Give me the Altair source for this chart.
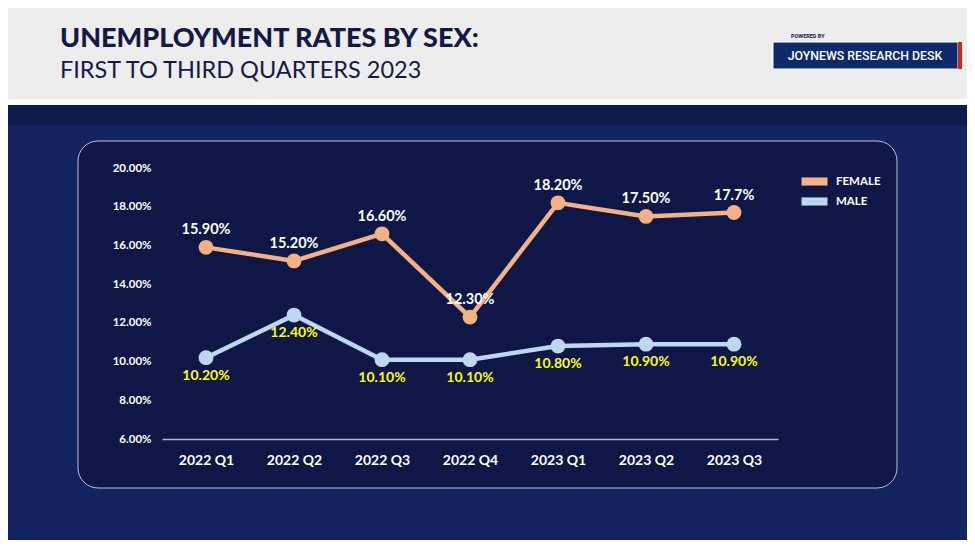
import altair as alt
import pandas as pd

quarters = ["2022 Q1", "2022 Q2", "2022 Q3", "2022 Q4", "2023 Q1", "2023 Q2", "2023 Q3"]
female = [15.9, 15.2, 16.6, 12.3, 18.2, 17.5, 17.7]
male = [10.2, 12.4, 10.1, 10.1, 10.8, 10.9, 10.9]
female_labels = ["15.90%", "15.20%", "16.60%", "12.30%", "18.20%", "17.50%", "17.7%"]
male_labels = ["10.20%", "12.40%", "10.10%", "10.10%", "10.80%", "10.90%", "10.90%"]
series = ["FEMALE", "MALE"]
colors = ["#f4b183", "#bdd7ee"]
y_ticks = [6, 8, 10, 12, 14, 16, 18, 20]

title = "UNEMPLOYMENT RATES BY SEX:"
subtitle = "FIRST TO THIRD QUARTERS 2023"
powered = "POWERED BY"
brand = "JOYNEWS RESEARCH DESK"

rows = []
for i, q in enumerate(quarters):
    rows.append({"quarter": q, "sex": "FEMALE", "rate": female[i], "label": female_labels[i]})
for i, q in enumerate(quarters):
    rows.append({"quarter": q, "sex": "MALE", "rate": male[i], "label": male_labels[i]})
df = pd.DataFrame(rows)
one = pd.DataFrame({"a": [0]})

FONT = "Lato"

xenc = alt.X("quarter:N", sort=quarters,
             scale=alt.Scale(type="point", padding=0.5),
             axis=alt.Axis(title=None, labelAngle=0, ticks=False, domainColor="#aeb6d3",
                           domainWidth=1.5, labelColor="white", labelFont=FONT,
                           labelFontWeight="bold", labelFontSize=14, labelPadding=14,
                           grid=False, zindex=1))
yenc = alt.Y("rate:Q", scale=alt.Scale(domain=[6, 20], nice=False, zero=False),
             axis=alt.Axis(title=None, values=y_ticks,
                           labelExpr="format(datum.value, '.2f') + '%'",
                           labelOverlap=False, labelFlush=False,
                           domain=False, ticks=False, grid=False, labelColor="white",
                           labelFont=FONT, labelFontWeight="bold", labelFontSize=11.5,
                           labelPadding=11, zindex=1))

base = alt.Chart(df)

header = alt.Chart(one).mark_rect(color="#ededed").encode(
    x=alt.value(-170), x2=alt.value(820), y=alt.value(-176), y2=alt.value(-69))
strip = alt.Chart(one).mark_rect(color="#ffffff").encode(
    x=alt.value(-170), x2=alt.value(820), y=alt.value(-69), y2=alt.value(-63))
topband = alt.Chart(one).mark_rect(color="#0f1a4f").encode(
    x=alt.value(-170), x2=alt.value(820), y=alt.value(-63), y2=alt.value(-43))
panel = alt.Chart(one).mark_rect(color="#0f1747", cornerRadius=20, stroke="#b9c0da",
                                 strokeWidth=1).encode(
    x=alt.value(-84), x2=alt.value(735), y=alt.value(-27), y2=alt.value(320))

t1 = alt.Chart(one).mark_text(text=title, font=FONT, fontWeight=900, fontSize=27,
                              color="#141a45", align="left", baseline="alphabetic").encode(
    x=alt.value(-102), y=alt.value(-121))
t2 = alt.Chart(one).mark_text(text=subtitle, font=FONT, fontWeight=400, fontSize=23.5,
                              color="#141a45", align="left", baseline="alphabetic").encode(
    x=alt.value(-102), y=alt.value(-90))
logo = alt.Chart(one).mark_rect(color="#0e2a6c", stroke="#ffffff", strokeWidth=1).encode(
    x=alt.value(611), x2=alt.value(796), y=alt.value(-126), y2=alt.value(-99))
red = alt.Chart(one).mark_rect(color="#c0301f").encode(
    x=alt.value(796), x2=alt.value(800), y=alt.value(-126), y2=alt.value(-99))
t3 = alt.Chart(one).mark_text(text=brand, font="Roboto", fontWeight=500, fontSize=12.3,
                              color="white", align="center", baseline="middle").encode(
    x=alt.value(703), y=alt.value(-112))
t4 = alt.Chart(one).mark_text(text=powered, font="Roboto", fontWeight="bold", fontSize=5.5,
                              color="#1a2050", align="left", baseline="middle").encode(
    x=alt.value(629), y=alt.value(-132))

lines = base.mark_line(strokeWidth=4.5).encode(
    x=xenc, y=yenc,
    color=alt.Color("sex:N", scale=alt.Scale(domain=series, range=colors), legend=None),
    detail="sex:N")
points = base.mark_circle(size=220, opacity=1).encode(
    x=xenc, y=yenc,
    color=alt.Color("sex:N", scale=alt.Scale(domain=series, range=colors),
                    legend=alt.Legend(title=None, orient="none", legendX=644, legendY=5,
                                      symbolType="M-1.6,-0.5H1.6V0.5H-1.6Z", symbolSize=264,
                                      symbolStrokeWidth=0, labelColor="white", labelFont=FONT,
                                      labelFontWeight="bold", labelFontSize=11.5,
                                      labelOffset=13, rowPadding=6, padding=0)))
flab = alt.Chart(df[df.sex == "FEMALE"]).mark_text(dy=-17, color="white", font=FONT,
                                                   fontWeight="bold", fontSize=14.5).encode(
    x=xenc, y=yenc, text="label:N")
mlab = alt.Chart(df[df.sex == "MALE"]).mark_text(dy=18, color="#ffff00", font=FONT,
                                                 fontWeight="bold", fontSize=14).encode(
    x=xenc, y=yenc, text="label:N")

chart = alt.layer(header, strip, topband, panel, t1, t2, logo, red, t3, t4,
                  lines, points, flab, mlab).resolve_legend(color="independent").properties(
    width=616, height=271,
    autosize=alt.AutoSizeParams(type="none"),
    padding={"left": 154, "top": 160, "right": 189, "bottom": 101},
    background="#13235f",
).configure_view(stroke=None).configure_axis(labelOverlap=False)

chart.save("out.html", embed_options={"renderer": "svg", "actions": False})
